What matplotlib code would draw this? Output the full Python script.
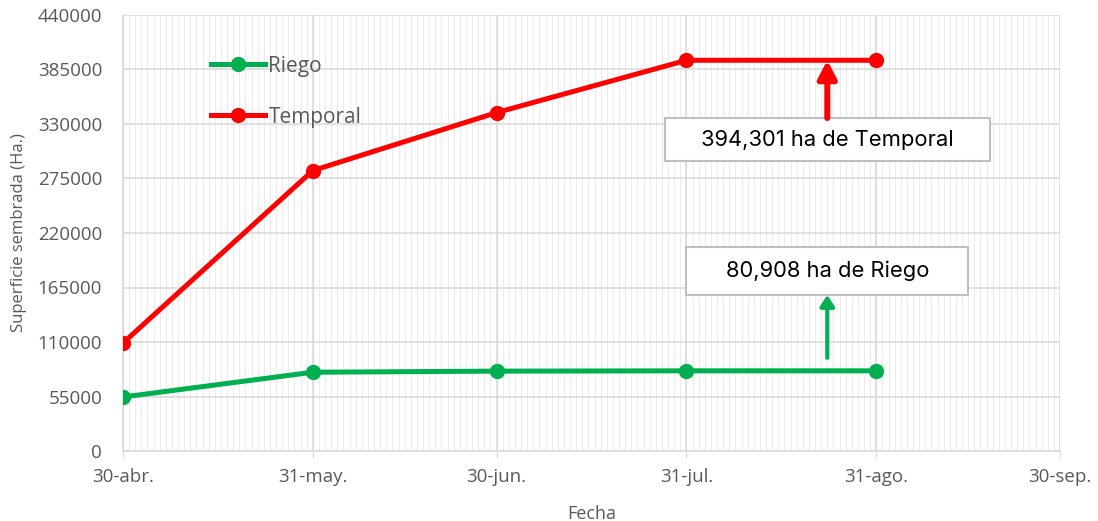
import matplotlib
matplotlib.use("Agg")
import matplotlib.pyplot as plt
from matplotlib.patches import Rectangle
from datetime import datetime, timedelta

# ---- data ----
dates = ["2019-04-30", "2019-05-31", "2019-06-30", "2019-07-31", "2019-08-31"]
riego = [54500, 79500, 80600, 80908, 80908]
temporal = [109000, 283000, 341500, 394301, 394301]
tick_dates = ["2019-04-30", "2019-05-31", "2019-06-30", "2019-07-31", "2019-08-31", "2019-09-30"]
tick_labels = ["30-abr.", "31-may.", "30-jun.", "31-jul.", "31-ago.", "30-sep."]
yticks = [0, 55000, 110000, 165000, 220000, 275000, 330000, 385000, 440000]
note_temporal = "394,301 ha de Temporal"
note_riego = "80,908 ha de Riego"

RED = "#ff0000"
GREEN = "#00b050"
GRAY = "#595959"

x = [datetime.strptime(d, "%Y-%m-%d") for d in dates]
xt = [datetime.strptime(d, "%Y-%m-%d") for d in tick_dates]

plt.rcParams['font.family'] = ['Open Sans', 'DejaVu Sans']

fig = plt.figure(figsize=(10.98, 5.21), dpi=100)
ax = fig.add_axes([123/1098, (521-451)/521, (1060-123)/1098, (451-15)/521])

# grid
xmin, xmax = xt[0], xt[-1]
day = xmin
while day <= xmax:
    ax.axvline(day, color="#ececec", lw=0.8, zorder=0)
    day += timedelta(days=1)
for t in xt:
    ax.axvline(t, color="#d9d9d9", lw=1.1, zorder=0.5)
for yv in yticks:
    ax.axhline(yv, color="#d9d9d9", lw=1.1, zorder=0.5)

ax.plot(x, riego, color=GREEN, lw=3.6, marker="o", ms=10, label="Riego", zorder=3)
ax.plot(x, temporal, color=RED, lw=3.6, marker="o", ms=10, label="Temporal", zorder=3)

ax.set_xlim(xmin, xmax)
ax.set_ylim(0, 440000)
ax.set_xticks(xt)
ax.set_xticklabels(tick_labels)
ax.set_yticks(yticks)
ax.set_yticklabels([str(v) for v in yticks])
ax.tick_params(axis="x", colors=GRAY, labelsize=13.5, length=5, color="#d9d9d9", pad=7)
ax.tick_params(axis="y", colors=GRAY, labelsize=13.5, length=0, pad=15)
for s in ["top", "right"]:
    ax.spines[s].set_visible(False)
for s in ["left", "bottom"]:
    ax.spines[s].set_color("#d9d9d9")
    ax.spines[s].set_linewidth(1.1)

ax.set_ylabel("Superficie sembrada (Ha.)", color=GRAY, fontsize=12, labelpad=8)
ax.set_xlabel("Fecha", color=GRAY, fontsize=13, labelpad=14)

leg = ax.legend(loc="upper left", bbox_to_anchor=(0.074, 0.95), frameon=False,
                fontsize=15, labelspacing=1.45, handlelength=2.6, handletextpad=0.15)
for t in leg.get_texts():
    t.set_color(GRAY)

# annotations
arrow_x = datetime(2019, 8, 23)
box_w = timedelta(days=53)
# Temporal box
tb_lo, tb_hi = 292700, 336000
ax.add_patch(Rectangle((arrow_x - box_w/2, tb_lo), box_w, tb_hi - tb_lo, facecolor="white",
                       edgecolor="#bfbfbf", lw=1.5, zorder=4))
ax.text(arrow_x, (tb_lo + tb_hi)/2, note_temporal, ha="center", va="center",
        fontsize=15.8, family=["Inter", "DejaVu Sans"], color="#000000", zorder=5)
ax.annotate("", xy=(arrow_x, temporal[-1]), xytext=(arrow_x, tb_hi),
            arrowprops=dict(arrowstyle="-|>,head_length=1.05,head_width=0.55", color=RED, lw=4.3,
                            shrinkA=0, shrinkB=0), zorder=4)
# Riego box
rw = timedelta(days=46)
rb_lo, rb_hi = 157500, 206000
ax.add_patch(Rectangle((arrow_x - rw/2, rb_lo), rw, rb_hi - rb_lo, facecolor="white",
                       edgecolor="#bfbfbf", lw=1.5, zorder=4))
ax.text(arrow_x, (rb_lo + rb_hi)/2, note_riego, ha="center", va="center",
        fontsize=15.8, family=["Inter", "DejaVu Sans"], color="#000000", zorder=5)
ax.annotate("", xy=(arrow_x, rb_lo), xytext=(arrow_x, 94000),
            arrowprops=dict(arrowstyle="-|>,head_length=0.65,head_width=0.42", color=GREEN, lw=3,
                            shrinkA=0, shrinkB=0), zorder=4)

fig.savefig("out.png", dpi=100)
